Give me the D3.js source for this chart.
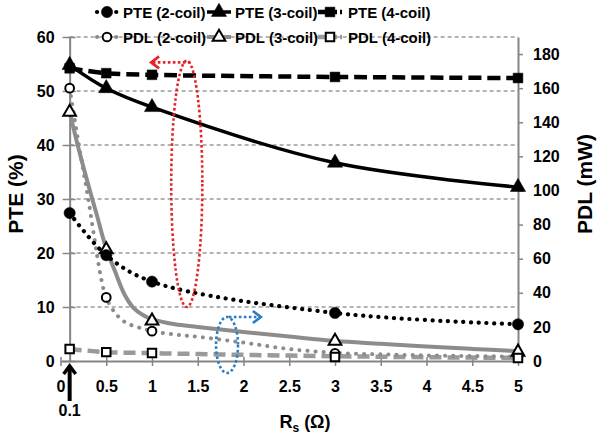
<!DOCTYPE html>
<html><head><meta charset="utf-8">
<script src="https://cdn.jsdelivr.net/npm/d3@7"></script>
<style>
body{margin:0;background:#fff}
text{font-family:"Liberation Sans",Arial,sans-serif;font-weight:bold;fill:#000}
</style>
</head><body><svg id="c" width="600" height="435"></svg>
<script>
// ---- data ----
const xMeas = [0.1, 0.5, 1, 3, 5];
const pte2 = [27.4, 19.6, 14.7, 8.9, 6.8];
const pte3 = [54.8, 50.5, 47.0, 36.7, 32.2];
const pte4 = [54.2, 53.3, 53.0, 52.6, 52.4];
const pdl2 = [160, 37.3, 17.5, 4.5, 2.5];
const pdl3 = [146, 65.3, 23.5, 11.7, 5.3];
const pdl4 = [7, 5.2, 4.7, 2.3, 1.7];
const xSim = [0.1, 0.2, 0.3, 0.4, 0.45, 0.5, 0.6, 0.7, 0.8, 0.9, 1, 1.25, 1.5, 2, 2.5, 3, 3.5, 4, 4.5, 5];
const pdl2Sim = [160, 127, 96, 62, 47, 37, 28, 23, 20.5, 19, 17.5, 15.5, 14.2, 10.8, 7, 4.8, 3.9, 3.3, 2.9, 2.6];
const pdl3Sim = [146, 124, 104, 85, 75, 66, 52, 39, 31, 27, 24.5, 21.5, 20, 17, 14.3, 11.7, 10.1, 8.5, 7.1, 5.8];
const pdl4Sim = [7, 6.4, 6, 5.6, 5.4, 5.2, 5, 4.9, 4.8, 4.7, 4.6, 4.3, 4.1, 3.6, 3.2, 2.8, 2.5, 2.2, 2, 1.8];
const xTicks = [0, 0.5, 1, 1.5, 2, 2.5, 3, 3.5, 4, 4.5, 5];
const leftTicks = [0, 10, 20, 30, 40, 50, 60];
const rightTicks = [0, 20, 40, 60, 80, 100, 120, 140, 160, 180];
const legendRow1 = ["PTE (2-coil)", "PTE (3-coil)", "PTE (4-coil)"];
const legendRow2 = ["PDL (2-coil)", "PDL (3-coil)", "PDL (4-coil)"];

// ---- scales ----
const svg = d3.select("#c");
const x = d3.scaleLinear().domain([0, 5]).range([60.5, 518]);
const yL = d3.scaleLinear().domain([0, 60]).range([361, 37]);
const yR = d3.scaleLinear().domain([0, 190]).range([361, 37]);
const axisGray = "#858585";
const gridGray = "#9a9a9a";
const lineGray = "#8c8c8c";
const tickFont = 16;

// gridlines
svg.append("g").selectAll("line").data(leftTicks.filter(d => d > 0)).join("line")
  .attr("x1", x(0.1)).attr("x2", x(5)).attr("y1", d => yL(d)).attr("y2", d => yL(d))
  .attr("stroke", gridGray).attr("stroke-width", 1.3).attr("stroke-dasharray", "4,3");

// axes
const gx = svg.append("g").attr("transform", `translate(0,${yL(0)})`)
  .call(d3.axisBottom(x).tickValues(xTicks).tickSize(5).tickSizeOuter(0).tickFormat(d => String(d)));
gx.select(".domain").attr("stroke", axisGray).attr("stroke-width", 2);
gx.selectAll(".tick line").attr("y1", -4).attr("stroke", axisGray).attr("stroke-width", 1.5);
gx.selectAll(".tick text").attr("y", 20).attr("font-size", tickFont);

const gl = svg.append("g").attr("transform", `translate(${x(0.1)},0)`)
  .call(d3.axisLeft(yL).tickValues(leftTicks).tickSize(7).tickSizeOuter(0).tickPadding(8));
gl.select(".domain").attr("stroke", axisGray).attr("stroke-width", 2);
gl.selectAll(".tick line").attr("x1", 6).attr("stroke", axisGray).attr("stroke-width", 1.5);
gl.selectAll(".tick text").attr("font-size", tickFont);

const gr = svg.append("g").attr("transform", `translate(${x(5)},0)`)
  .call(d3.axisRight(yR).tickValues(rightTicks).tickSize(5).tickSizeOuter(0).tickPadding(10));
gr.select(".domain").attr("stroke", axisGray).attr("stroke-width", 2);
gr.selectAll(".tick line").attr("stroke", axisGray).attr("stroke-width", 1.5);
gr.selectAll(".tick text").attr("font-size", tickFont);
svg.selectAll(".tick text").style("font-family", '"Liberation Sans",Arial,sans-serif').style("font-weight", "bold").attr("fill", "#000");

// titles
svg.append("text").attr("transform", "translate(23,194) rotate(-90)").attr("text-anchor", "middle")
  .attr("font-size", 21).text("PTE (%)");
svg.append("text").attr("transform", "translate(592,184) rotate(-90)").attr("text-anchor", "middle")
  .attr("font-size", 21).text("PDL (mW)");
const xt = svg.append("text").attr("x", 305).attr("y", 428).attr("text-anchor", "middle").attr("font-size", 18);
xt.append("tspan").text("R");
xt.append("tspan").attr("font-size", 12).attr("dy", 4).text("s");
xt.append("tspan").attr("dy", -4).text(" (Ω)");

// 0.1 arrow
svg.append("line").attr("x1", x(0.1)).attr("x2", x(0.1)).attr("y1", 401).attr("y2", 368)
  .attr("stroke", "#000").attr("stroke-width", 4);
svg.append("path").attr("d", `M${x(0.1) - 6},374 L${x(0.1)},366 L${x(0.1) + 6},374`)
  .attr("fill", "none").attr("stroke", "#000").attr("stroke-width", 3.5);
svg.append("text").attr("x", x(0.1)).attr("y", 416).attr("text-anchor", "middle").attr("font-size", tickFont).text("0.1");

// ---- series ----
const styles = {
  pte2: {stroke: "#000", w: 4.2, dash: "0.1,7.6", cap: "round"},
  pte3: {stroke: "#000", w: 3.5, dash: null, cap: "butt"},
  pte4: {stroke: "#000", w: 4.5, dash: "13,6", cap: "butt"},
  pdl2: {stroke: lineGray, w: 4, dash: "0.1,8", cap: "round"},
  pdl3: {stroke: lineGray, w: 4, dash: null, cap: "butt"},
  pdl4: {stroke: "#9a9a9a", w: 4.5, dash: "12,6", cap: "butt"}
};
function drawLine(xs, ys, yScale, st, curve) {
  const pts = xs.map((d, i) => [x(d), yScale(ys[i])]);
  svg.append("path").attr("d", d3.line().curve(curve)(pts))
    .attr("fill", "none").attr("stroke", st.stroke).attr("stroke-width", st.w)
    .attr("stroke-dasharray", st.dash).attr("stroke-linecap", st.cap);
}
drawLine(xSim, pdl4Sim, yR, styles.pdl4, d3.curveMonotoneX);
drawLine(xSim, pdl2Sim, yR, styles.pdl2, d3.curveCatmullRom.alpha(0.5));
drawLine(xSim, pdl3Sim, yR, styles.pdl3, d3.curveCatmullRom.alpha(0.5));
drawLine(xMeas, pte2, yL, styles.pte2, d3.curveCatmullRom);
drawLine(xMeas, pte3, yL, styles.pte3, d3.curveCatmullRom);
drawLine(xMeas, pte4, yL, styles.pte4, d3.curveCatmullRom);

const mk = {
  circle: {type: d3.symbolCircle, size: 100},
  tri: {type: d3.symbolTriangle, size: 100},
  sq: {type: d3.symbolSquare, size: 95},
  ocircle: {type: d3.symbolCircle, size: 60},
  otri: {type: d3.symbolTriangle, size: 70},
  osq: {type: d3.symbolSquare, size: 72}
};
function drawMarkers(xs, ys, yScale, m, open) {
  svg.append("g").selectAll("path").data(xs).join("path")
    .attr("transform", (d, i) => `translate(${x(d)},${yScale(ys[i])})`)
    .attr("d", d3.symbol().type(m.type).size(m.size))
    .attr("fill", open ? "#fff" : "#000").attr("stroke", "#000").attr("stroke-width", open ? 2 : 0.5);
}
drawMarkers(xMeas, pdl2, yR, mk.ocircle, true);
drawMarkers(xMeas, pdl3, yR, mk.otri, true);
drawMarkers(xMeas, pdl4, yR, mk.osq, true);
drawMarkers(xMeas, pte2, yL, mk.circle, false);
drawMarkers(xMeas, pte3, yL, mk.tri, false);
drawMarkers(xMeas, pte4, yL, mk.sq, false);

// ---- annotations (in data units) ----
const red = "#e3242b", blue = "#2a7cc7";
svg.append("ellipse").attr("cx", x(1.38)).attr("cy", yL(32.8))
  .attr("rx", x(1.38 + 0.17) - x(1.38)).attr("ry", yL(0) - yL(22.8))
  .attr("fill", "none").attr("stroke", red).attr("stroke-width", 2.6).attr("stroke-dasharray", "2.6,2.4");
svg.append("line").attr("x1", x(1.42)).attr("x2", x(0.99)).attr("y1", yL(55.3)).attr("y2", yL(55.3))
  .attr("stroke", red).attr("stroke-width", 2.6).attr("stroke-dasharray", "2.6,2.4");
svg.append("path").attr("d", `M${x(0.99) + 8},${yL(55.3) - 6} L${x(0.99)},${yL(55.3)} L${x(0.99) + 8},${yL(55.3) + 6}`)
  .attr("fill", "none").attr("stroke", red).attr("stroke-width", 2.6);

svg.append("ellipse").attr("cx", x(1.82)).attr("cy", yR(9.4))
  .attr("rx", x(1.82 + 0.12) - x(1.82)).attr("ry", yR(0) - yR(16.4))
  .attr("fill", "none").attr("stroke", blue).attr("stroke-width", 2.6).attr("stroke-dasharray", "2.6,2.4");
svg.append("line").attr("x1", x(1.84)).attr("x2", x(2.19)).attr("y1", yR(25.8)).attr("y2", yR(25.8))
  .attr("stroke", blue).attr("stroke-width", 2.6).attr("stroke-dasharray", "2.6,2.4");
svg.append("path").attr("d", `M${x(2.19) - 8},${yR(25.8) - 6} L${x(2.19)},${yR(25.8)} L${x(2.19) - 8},${yR(25.8) + 6}`)
  .attr("fill", "none").attr("stroke", blue).attr("stroke-width", 2.6);

// ---- legend ----
const legX = [95, 207, 318];
const legTextX = [123, 235, 348];
const legRows = [
  {y: 12, names: legendRow1, st: [styles.pte2, styles.pte3, styles.pte4], m: [mk.circle, mk.tri, mk.sq], open: false},
  {y: 37, names: legendRow2, st: [styles.pdl2, styles.pdl3, styles.pdl4], m: [mk.ocircle, mk.otri, mk.osq], open: true}
];
legRows.forEach(row => {
  row.names.forEach((name, i) => {
    const x0 = legX[i], st = row.st[i];
    svg.append("line").attr("x1", x0 + (st.cap === "round" ? 2 : 0)).attr("x2", x0 + 24).attr("y1", row.y).attr("y2", row.y)
      .attr("stroke", st.stroke).attr("stroke-width", st.w).attr("stroke-linecap", st.cap)
      .attr("stroke-dasharray", st.dash ? (st.cap === "round" ? "0.1,9.5" : "8,3") : null);
    svg.append("path").attr("transform", `translate(${x0 + 12},${row.y})`)
      .attr("d", d3.symbol().type(row.m[i].type).size(row.m[i].size))
      .attr("fill", row.open ? "#fff" : "#000").attr("stroke", "#000").attr("stroke-width", row.open ? 2 : 0.5);
    svg.append("text").attr("x", legTextX[i]).attr("y", row.y + 5.5).attr("font-size", 15).text(name);
  });
});
</script>
</body></html>
